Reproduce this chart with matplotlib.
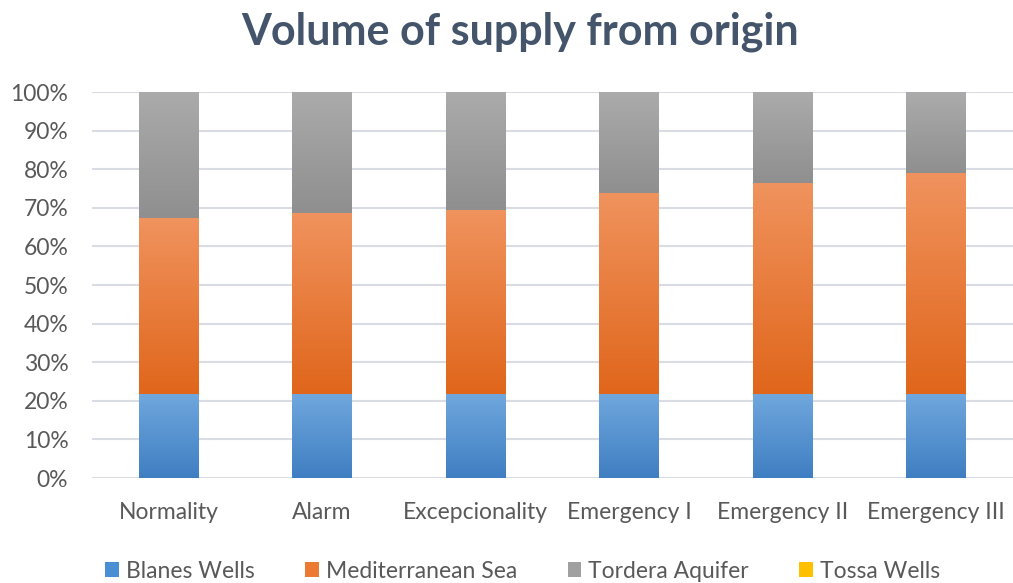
import numpy as np
import matplotlib
matplotlib.use("Agg")
import matplotlib.pyplot as plt
from matplotlib.colors import LinearSegmentedColormap
from matplotlib.patches import Patch

# Data (percent of supply)
stages = ["Normality", "Alarm", "Excepcionality", "Emergency I", "Emergency II", "Emergency III"]
blanes_wells = [21.8, 21.8, 21.8, 21.8, 21.8, 21.8]
med_sea_top = [67.3, 68.7, 69.4, 73.9, 76.5, 79.1]
mediterranean_sea = [t - b for t, b in zip(med_sea_top, blanes_wells)]
tossa_wells = [0, 0, 0, 0, 0, 0]
tordera_aquifer = [100 - t for t in med_sea_top]

series_names = ["Blanes Wells", "Mediterranean Sea", "Tordera Aquifer", "Tossa Wells"]
# (top colour, bottom colour, legend colour)
series_colors = [
    ("#70A8DE", "#3F7EC2", "#4A8ED3"),
    ("#F0935E", "#E0661B", "#EB7A32"),
    ("#ABABAB", "#8F8F8F", "#A0A0A0"),
    ("#FFC000", "#E6AC00", "#FFC000"),
]

plt.rcParams['font.family'] = ['Lato', 'DejaVu Sans']

fig = plt.figure(figsize=(10.13, 5.83), dpi=100)
ax = fig.add_axes([0.0908, 0.18, 0.909, 0.662])

x = np.arange(len(stages))
width = 0.39
bottom = np.zeros(len(stages))
order = [blanes_wells, mediterranean_sea, tordera_aquifer]
color_order = [series_colors[0], series_colors[1], series_colors[2]]

grad = np.linspace(0, 1, 256).reshape(-1, 1)
for vals, (c_top, c_bot, _) in zip(order, color_order):
    vals = np.array(vals, dtype=float)
    bars = ax.bar(x, vals, width, bottom=bottom, color="none", edgecolor="none", zorder=3)
    cmap = LinearSegmentedColormap.from_list("g", [c_bot, c_top])
    for rect in bars:
        x0, y0 = rect.get_x(), rect.get_y()
        w, h = rect.get_width(), rect.get_height()
        if h <= 0:
            continue
        im = ax.imshow(grad, cmap=cmap, origin="lower", aspect="auto",
                       extent=(x0, x0 + w, y0, y0 + h), zorder=2, interpolation="bilinear")
        im.set_clip_path(rect)
    bottom += vals

ax.set_xlim(-0.5, len(stages) - 0.5)
ax.set_ylim(0, 100)
ax.set_yticks(np.arange(0, 101, 10))
ax.set_yticklabels([f"{v}%" for v in range(0, 101, 10)], fontsize=16.5, color="#595959")
ax.set_xticks(x)
ax.set_xticklabels(stages, fontsize=16.5, color="#595959")
ax.tick_params(axis="x", length=0, pad=17)
ax.tick_params(axis="y", length=0, pad=17)
ax.yaxis.grid(True, color="#D9DDE3", linewidth=1.5, zorder=0)
ax.set_axisbelow(True)
for s in ax.spines.values():
    s.set_visible(False)

fig.text(0.513, 0.945, "Volume of supply from origin", ha="center", va="center",
         fontsize=31, fontweight="bold", color="#44546A")

handles = [Patch(facecolor=c[2], edgecolor="none") for c in series_colors]
fig.legend(handles, series_names, loc="center", bbox_to_anchor=(0.516, 0.02), ncol=4,
           frameon=False, fontsize=16.5, handlelength=0.6, handleheight=0.6,
           handletextpad=0.3, columnspacing=2.2, labelcolor="#595959")

fig.savefig("out.png", dpi=100)
